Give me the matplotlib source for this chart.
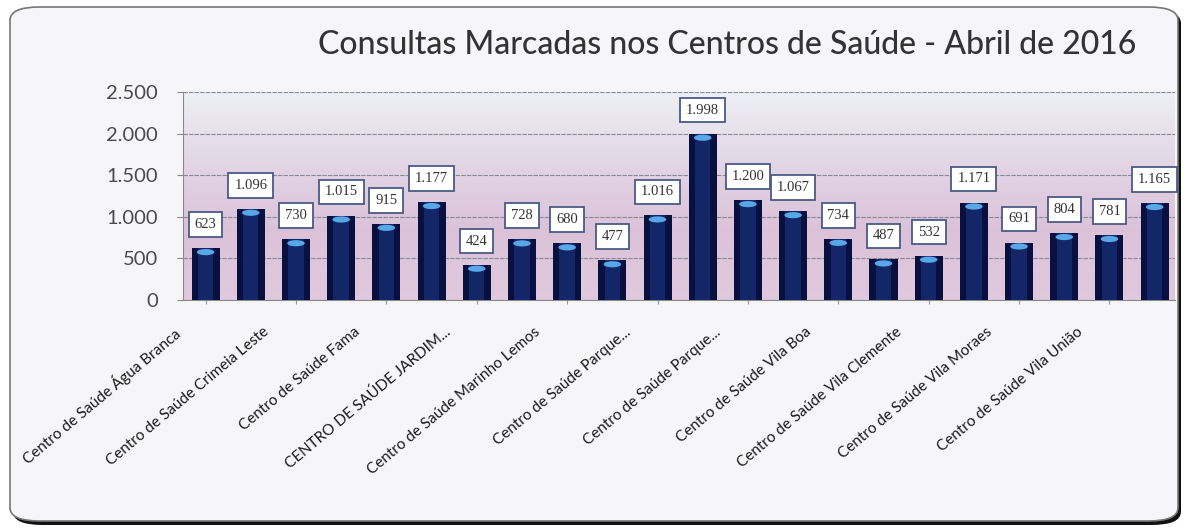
import numpy as np
import matplotlib.pyplot as plt
from matplotlib.patches import FancyBboxPatch
from matplotlib.path import Path
from matplotlib.transforms import ScaledTranslation
from matplotlib.ticker import FuncFormatter

# consultas por centro de saude (abril 2016)
valores = [623, 1096, 730, 1015, 915, 1177, 424, 728, 680, 477, 1016,
           1998, 1200, 1067, 734, 487, 532, 1171, 691, 804, 781, 1165]
# so os rotulos visiveis (um a cada duas barras)
rotulos = [
    'Centro de Saúde Água Branca',
    'Centro de Saúde Crimeia Leste',
    'Centro de Saúde Fama',
    'CENTRO DE SAÚDE JARDIM...',
    'Centro de Saúde Marinho Lemos',
    'Centro de Saúde Parque...',
    'Centro de Saúde Parque...',
    'Centro de Saúde Vila Boa',
    'Centro de Saúde Vila Clemente',
    'Centro de Saúde Vila Moraes',
    'Centro de Saúde Vila União',
]
titulo = 'Consultas Marcadas nos Centros de Saúde - Abril de 2016'


def milhar(v):
    return f"{int(v):,}".replace(',', '.')


W, H = 1187, 530
fig = plt.figure(figsize=(W / 100, H / 100), dpi=100)
fig.patch.set_facecolor('white')

# moldura arredondada com sombra
sombra = FancyBboxPatch((13 / W, 5 / H), 1168 / W, 515 / H,
                        boxstyle='round,pad=0,rounding_size=0.025',
                        transform=fig.transFigure, facecolor='#111111',
                        edgecolor='none', zorder=0)
moldura = FancyBboxPatch((10 / W, 9 / H), 1168 / W, 514 / H,
                         boxstyle='round,pad=0,rounding_size=0.025',
                         transform=fig.transFigure, facecolor='#f6f6f8',
                         edgecolor='#777777', lw=1.2, zorder=0.5)
fig.patches.extend([sombra, moldura])

ax = fig.add_axes([183 / W, 230 / H, 992 / W, 208 / H])
ax.set_zorder(2)
ax.set_facecolor('none')

# fundo em degrade (claro em cima, lilas embaixo)
cores = np.array([[0.93, 0.94, 0.96], [0.89, 0.84, 0.90],
                  [0.86, 0.76, 0.85], [0.88, 0.79, 0.87]])
grad = np.linspace(0, 1, 256)
img = np.stack([np.interp(grad, np.linspace(0, 1, 4), cores[:, c]) for c in range(3)], axis=1)
ax.imshow(img[:, None, :], extent=[0, 1, 0, 1], transform=ax.transAxes,
          aspect='auto', origin='upper', zorder=0)

x = np.arange(len(valores))
ax.bar(x, valores, width=0.62, color='#08103f', zorder=3)
ax.bar(x, valores, width=0.34, color='#1c3585', alpha=0.6, zorder=3.5)

# tampa clara no topo de cada barra (elipse logo abaixo do topo)
t = np.linspace(0, 2 * np.pi, 40)
tampa = Path(np.column_stack([np.cos(t), 0.35 * np.sin(t) - 0.45]))
ax.scatter(x, valores, s=160, marker=tampa, color='#58a8e8', edgecolor='none',
           zorder=4)

for xi, v in zip(x, valores):
    ax.annotate(milhar(v), (xi, v), xytext=(0, 17), textcoords='offset points',
                ha='center', va='center', fontsize=10.5,
                family='Liberation Serif', color='#333333', zorder=6,
                bbox=dict(boxstyle='square,pad=0.4', fc='white',
                          ec='#4a5a86', lw=1.3))

ax.set_xlim(-0.5, 21.45)
ax.set_ylim(0, 2500)
ax.set_yticks(np.arange(0, 2501, 500))
ax.yaxis.set_major_formatter(FuncFormatter(lambda v, p: milhar(v)))
ax.tick_params(axis='y', labelsize=14.5, labelcolor='#4a4a4a', color='#888888',
               length=4, pad=14)
for lb in ax.get_yticklabels():
    lb.set_family('Lato')

ax.set_xticks(x[::2])
ax.set_xticklabels(rotulos, rotation=40, ha='right', rotation_mode='anchor',
                   family='Lato', fontsize=11, color='#1a1a1a')
ax.tick_params(axis='x', length=3, color='#999999', pad=15)
desloca = ScaledTranslation(-0.33, 0, fig.dpi_scale_trans)
for lb in ax.get_xticklabels():
    lb.set_transform(lb.get_transform() + desloca)

ax.grid(axis='y', color='#8a8a96', lw=0.8, ls=(0, (4, 1)), zorder=1)
for s in ['top', 'right']:
    ax.spines[s].set_visible(False)
ax.spines['left'].set_color('#8a8a8a')
ax.spines['bottom'].set_color('#8a8a8a')

fig.text(727 / W, 1 - 45 / H, titulo, ha='center', va='center',
         fontsize=23, family='Lato', weight='medium', color='#333333')

fig.savefig('out.png', dpi=100)
